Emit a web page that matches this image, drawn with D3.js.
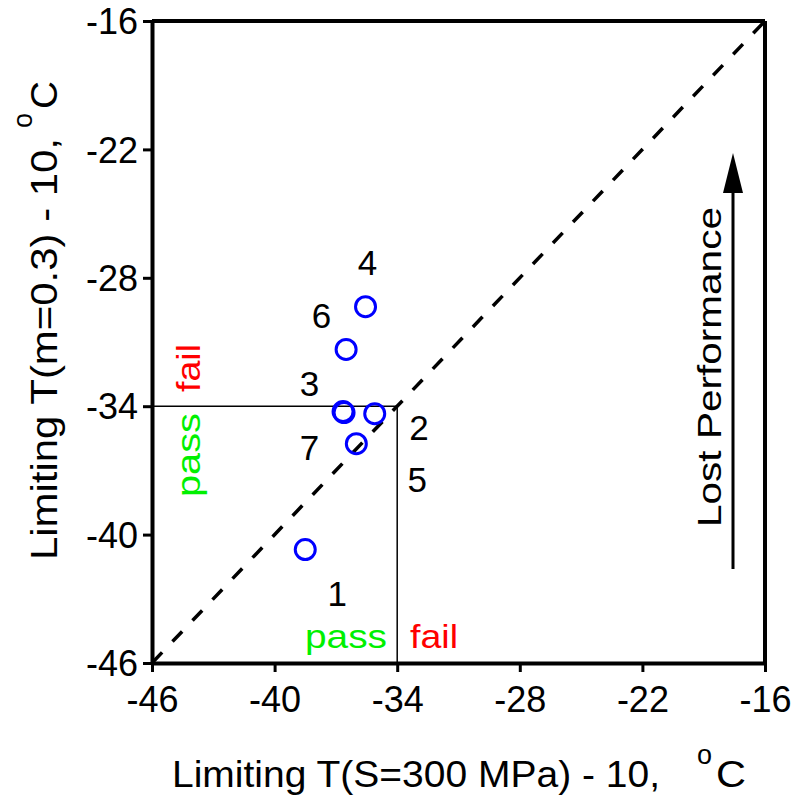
<!DOCTYPE html>
<html><head><meta charset="utf-8">
<script src="https://cdn.jsdelivr.net/npm/d3@7"></script>
<style>body{margin:0;background:#fff;} text{font-family:"Liberation Sans",Arial,sans-serif;}</style>
</head><body>
<svg id="c" width="797" height="797"></svg>
<script>
// ---- data ----
const pointIds = ["1","2","3","4","5","6","7"];
const xValues  = [-38.5, -35.1, -36.65, -35.55, -36.6, -36.5, -36.0];
const yValues  = [-40.7, -34.35, -34.25, -29.35, -34.3, -31.35, -35.75];
// label anchors (data units)
const labelX   = [-36.93, -32.93, -38.29, -35.46, -33.02, -37.71, -38.29];
const labelY   = [-42.73, -34.97, -32.92, -27.26, -37.40, -29.74, -35.91];
const xTicks = [-46, -40, -34, -28, -22, -16];
const yTicks = [-46, -40, -34, -28, -22, -16];
const limitX = -34, limitY = -34;

const svg = d3.select("#c");
const L = 152, R = 765, T = 21, B = 663;
const x = d3.scaleLinear().domain([-46, -16]).range([L, R]);
const y = d3.scaleLinear().domain([-46, -16]).range([B, T]);

// borders top/right
svg.append("line").attr("x1", L).attr("x2", R).attr("y1", T).attr("y2", T).attr("stroke", "#000").attr("stroke-width", 4);
svg.append("line").attr("x1", R).attr("x2", R).attr("y1", T).attr("y2", B).attr("stroke", "#000").attr("stroke-width", 4);

// axes
const xa = svg.append("g").attr("transform", `translate(0,${B})`)
  .call(d3.axisBottom(x).tickValues(xTicks).tickSize(9).tickSizeOuter(0).tickPadding(14).tickFormat(d3.format("d")));
const ya = svg.append("g").attr("transform", `translate(${L},0)`)
  .call(d3.axisLeft(y).tickValues(yTicks).tickSize(9).tickSizeOuter(0).tickPadding(5).tickFormat(d3.format("d")));
[xa, ya].forEach(g => {
  g.select(".domain").attr("stroke-width", 4).attr("stroke", "#000");
  g.selectAll(".tick line").attr("stroke-width", 3).attr("stroke", "#000");
  g.selectAll(".tick text").attr("font-size", 36).attr("fill", "#000").attr("font-family", "Liberation Sans, Arial, sans-serif");
});
ya.selectAll(".tick text").attr("dy", "0.35em");
xa.selectAll(".tick text").attr("dy", "0.72em");
xa.selectAll(".tick text").text(d => String(d));
ya.selectAll(".tick text").text(d => String(d));

// diagonal dashed 1:1 line (drawn from top-right downwards)
svg.append("line")
  .attr("x1", x(-16)).attr("y1", y(-16)).attr("x2", x(-46)).attr("y2", y(-46))
  .attr("stroke", "#000").attr("stroke-width", 3.5)
  .attr("stroke-dasharray", "14,15").attr("stroke-dashoffset", -3);

// limit lines
svg.append("line").attr("x1", x(-46)).attr("x2", x(limitX)).attr("y1", y(limitY)).attr("y2", y(limitY))
  .attr("stroke", "#000").attr("stroke-width", 1.5);
svg.append("line").attr("x1", x(limitX)).attr("x2", x(limitX)).attr("y1", y(limitY)).attr("y2", y(-46))
  .attr("stroke", "#000").attr("stroke-width", 1.5);

// points
svg.append("g").selectAll("circle").data(pointIds).join("circle")
  .attr("cx", (d, i) => x(xValues[i])).attr("cy", (d, i) => y(yValues[i]))
  .attr("r", 10).attr("fill", "none").attr("stroke", "#0000ff").attr("stroke-width", 3);

// labels
svg.append("g").selectAll("text").data(pointIds).join("text")
  .attr("x", (d, i) => x(labelX[i])).attr("y", (d, i) => y(labelY[i]))
  .attr("text-anchor", "middle").attr("dy", "0.36em")
  .attr("font-size", 35).attr("fill", "#000").text(d => d);

// pass/fail annotations
function stretched(sel, len) { return sel.attr("textLength", len).attr("lengthAdjust", "spacingAndGlyphs"); }
stretched(svg.append("text").attr("x", 305).attr("y", 648).attr("font-size", 33).attr("fill", "#00f000").text("pass"), 82);
stretched(svg.append("text").attr("x", 410).attr("y", 648).attr("font-size", 33).attr("fill", "#ff0000").text("fail"), 48);
stretched(svg.append("text").attr("transform", "translate(200,392) rotate(-90)").attr("font-size", 33).attr("fill", "#ff0000").text("fail"), 48);
stretched(svg.append("text").attr("transform", "translate(200,497) rotate(-90)").attr("font-size", 33).attr("fill", "#00f000").text("pass"), 84);

// Lost performance arrow
svg.append("line").attr("x1", 733).attr("x2", 733).attr("y1", 569).attr("y2", 185).attr("stroke", "#000").attr("stroke-width", 3);
svg.append("path").attr("d", "M733,153 L743,193 L723,193 Z").attr("fill", "#000");
stretched(svg.append("text").attr("transform", "translate(721,527) rotate(-90)").attr("font-size", 34).attr("fill", "#000").text("Lost Performance"), 320);

// axis titles
stretched(svg.append("text").attr("x", 172).attr("y", 787).attr("font-size", 37).attr("fill", "#000").text("Limiting T(S=300 MPa) - 10,"), 488);
svg.append("text").attr("x", 697).attr("y", 764).attr("font-size", 27).attr("fill", "#000").text("o");
stretched(svg.append("text").attr("x", 716).attr("y", 787).attr("font-size", 37).attr("fill", "#000").text("C"), 30);

stretched(svg.append("text").attr("transform", "translate(57,560) rotate(-90)").attr("font-size", 37).attr("fill", "#000").text("Limiting T(m=0.3) - 10,"), 422);
svg.append("text").attr("transform", "translate(32,128) rotate(-90)").attr("font-size", 27).attr("fill", "#000").text("o");
stretched(svg.append("text").attr("transform", "translate(57,109) rotate(-90)").attr("font-size", 37).attr("fill", "#000").text("C"), 28);
</script>
</body></html>
